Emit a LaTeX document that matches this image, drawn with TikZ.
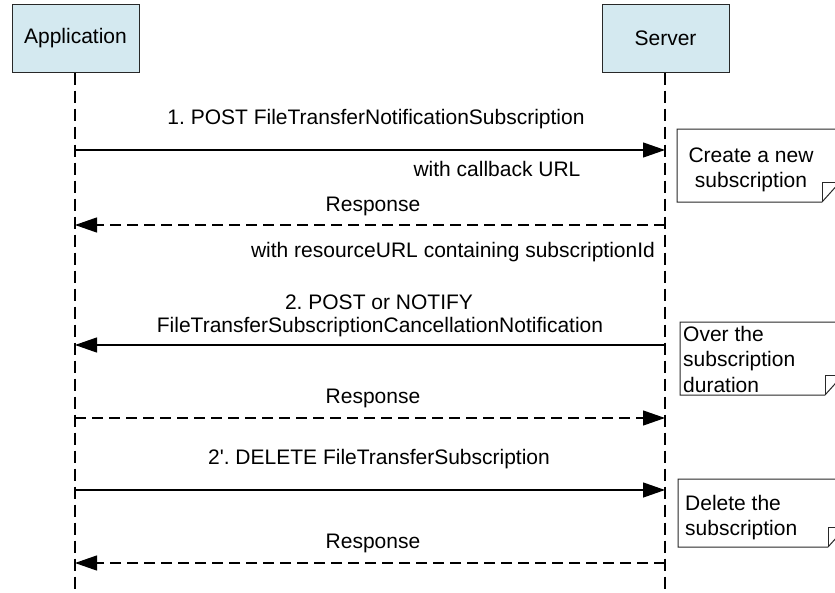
\documentclass[tikz,border=0pt]{standalone}
\usepackage{fontspec}
\setmainfont{Liberation Sans}
\newfontfamily\rawfont{Liberation Sans}
\usetikzlibrary{arrows.meta}
\frenchspacing
\definecolor{boxfill}{RGB}{212,233,240}
\definecolor{boxline}{RGB}{40,40,40}
\tikzset{
  actor/.style={draw=boxline, line width=1pt, fill=boxfill, minimum width=127pt, minimum height=68pt, font=\fontsize{21}{25}\selectfont, inner sep=0pt},
  lifeline/.style={line width=1.5pt, dash pattern=on 12pt off 6pt},
  msg/.style={line width=1.2pt, -{Triangle[length=22pt,width=15pt]}},
  reply/.style={msg, dash pattern=on 11pt off 6pt},
  lbl/.style={font=\fontsize{21}{25}\selectfont, inner sep=0pt},
  notetxt/.style={font=\fontsize{21}{25.5}\selectfont, inner sep=0pt, align=left},
  notebox/.style={draw=boxline, line width=1pt, fill=white}
}
\newcommand{\notefold}[4]{% left, top, bottom, right
  \draw[notebox] (#1,#2) -- (#4,#2) -- (#4,#3-20) -- (#4-18,#3) -- (#1,#3) -- cycle;
  \draw[boxline, line width=1pt] (#4-18,#3) -- (#4-18,#3-20) -- (#4,#3-20);
}
\begin{document}
\begin{tikzpicture}[x=1pt,y=-1pt]
\useasboundingbox (0,0) rectangle (835,592);
\clip (0,0) rectangle (835,592);
% actors
\node[actor] (app) at (75.5,38) {Application};
\node[actor] (srv) at (665.5,38) {Server};
\coordinate (append) at (75,595);
\coordinate (srvend) at (665,595);
\draw[lifeline] (app.south -| 75,0) -- (append);
\draw[lifeline] (srv.south -| 665,0) -- (srvend);
% message anchor coordinates
\foreach \n/\y in {1/150,2/225,3/345,4/418,5/490,6/563}{
  \coordinate (a\n) at (75,\y);
  \coordinate (s\n) at (665,\y);
}
% messages
\draw[msg] (a1) -- (s1);
\node[lbl] (m1) at (376,119) {1. POST FileTransferNotificationSubscription};
\node[lbl] (m1b) at (497,169) {with callback URL};
\draw[reply] (s2) -- (a2);
\node[lbl] (r1) at (373,206) {Response};
\node[lbl] (r1b) at (453,252) {with resourceURL containing subscriptionId};
\draw[msg] (s3) -- (a3);
\node[lbl] (m2) at (379,302) {2. POST or NOTIFY};
\node[lbl] (m2b) at (380,327) {FileTransferSubscriptionCancellationNotification};
\draw[reply] (a4) -- (s4);
\node[lbl] (r2) at (373,398) {Response};
\draw[msg] (a5) -- (s5);
\node[lbl] (m3) at (379,459) {2{\rawfont'}. DELETE FileTransferSubscription};
\draw[reply] (s6) -- (a6);
\node[lbl] (r3) at (373,543) {Response};
% notes
\notefold{677}{129}{202}{840}
\node[notetxt, align=center] (n1) at (751,170) {Create a new\\subscription};
\notefold{680}{322}{395}{843}
\node[notetxt, anchor=north west] (n2) at (683,326) {Over the\\subscription\\duration};
\notefold{678}{479}{547}{846}
\node[notetxt, anchor=north west] (n3) at (685,495) {Delete the\\subscription};
\end{tikzpicture}
\end{document}
